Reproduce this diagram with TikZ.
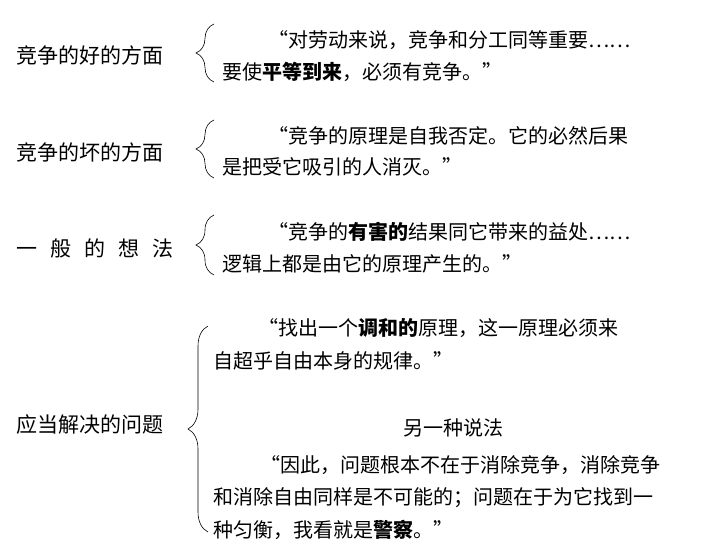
\documentclass[tikz,border=0pt]{standalone}
\usepackage{fontspec}
\setmainfont{Noto Sans CJK SC}
\usetikzlibrary{decorations.pathreplacing, positioning}

\begin{document}
\begin{tikzpicture}[
    x=1pt, y=-1pt,
    label/.style={anchor=west, inner sep=0pt, font=\fontsize{21}{23}\selectfont},
    quote/.style={anchor=west, inner sep=0pt, font=\fontsize{20}{22}\selectfont},
    bracket/.style={decorate, decoration={brace, amplitude=18pt, aspect=0.5}, semithick}
]
\useasboundingbox (0,0) rectangle (707,552);

% Good side
\node[label] (good) at (16,55) {竞争的好的方面};
\draw[bracket] (214,82) -- (214,24);
\node[quote] (goodA) at (268,40) {“对劳动来说，竞争和分工同等重要……};
\node[quote] (goodB) at (222,72) {要使\textbf{平等到来}，必须有竞争。”};

% Bad side
\node[label] (bad) at (16,152) {竞争的坏的方面};
\draw[bracket] (214,178) -- (214,120);
\node[quote] (badA) at (268,136) {“竞争的原理是自我否定。它的必然后果};
\node[quote] (badB) at (222,167) {是把受它吸引的人消灭。”};

% General view
\node[label] (general) at (16,249) {一\hspace{13pt}般\hspace{13pt}的\hspace{13pt}想\hspace{13pt}法};
\draw[bracket] (214,275) -- (214,215);
\node[quote] (genA) at (268,232) {“竞争的\textbf{有害的}结果同它带来的益处……};
\node[quote] (genB) at (222,264) {逻辑上都是由它的原理产生的。”};

% Problem to solve
\node[label] (problem) at (16,425) {应当解决的问题};
\draw[bracket, decoration={amplitude=20pt}] (208,532) -- (208,326);
\node[quote] (probA) at (258,328) {“找出一个\textbf{调和的}原理，这一原理必须来};
\node[quote] (probB) at (213,361) {自超乎自由本身的规律。”};
\node[quote, anchor=center] (other) at (453,428) {另一种说法};
\node[quote] (probC) at (260,465) {“因此，问题根本不在于消除竞争，消除竞争};
\node[quote] (probD) at (213,498) {和消除自由同样是不可能的；问题在于为它找到一};
\node[quote] (probE) at (213,530) {种匀衡，我看就是\textbf{警察}。”};

\end{tikzpicture}
\end{document}
